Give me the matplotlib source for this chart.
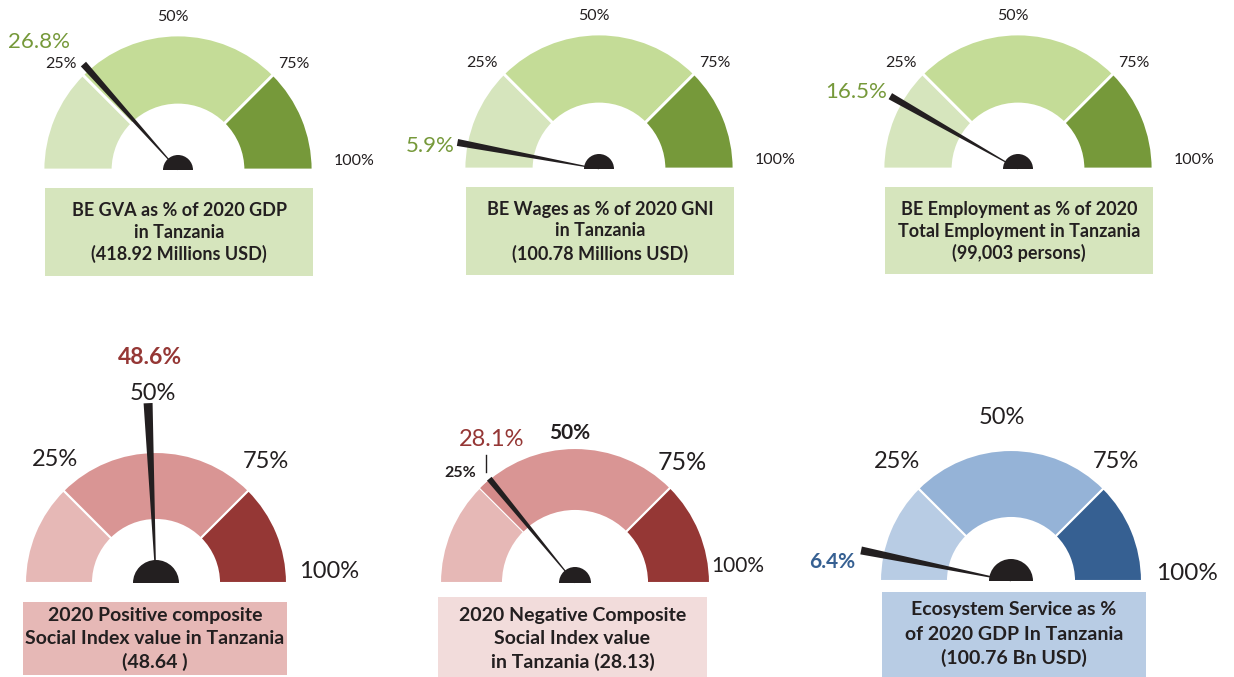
import numpy as np
import matplotlib.pyplot as plt
from matplotlib.patches import Wedge, Polygon, Rectangle

plt.rcParams['font.family'] = ['Lato', 'DejaVu Sans']

W, H = 1234, 677
INK = '#231f20'

# Werte der Anzeigen (in %)
values = [26.8, 5.9, 16.5, 48.6, 28.1, 6.4]
value_labels = ['26.8%', '5.9%', '16.5%', '48.6%', '28.1%', '6.4%']
bands = [0, 25, 75, 100]
band_labels = ['25%', '50%', '75%', '100%']
titles = [
    ['BE GVA as % of 2020 GDP', 'in Tanzania', '(418.92 Millions USD)'],
    ['BE Wages as % of 2020 GNI', 'in Tanzania', '(100.78 Millions USD)'],
    ['BE Employment as % of 2020', 'Total Employment in Tanzania', '(99,003 persons)'],
    ['2020 Positive composite', 'Social Index value in Tanzania', '(48.64 )'],
    ['2020 Negative Composite', 'Social Index value', 'in Tanzania (28.13)'],
    ['Ecosystem Service as %', 'of 2020 GDP In Tanzania', '(100.76 Bn USD)'],
]

# Farben
green = dict(seg=['#d6e5bd', '#c4dc97', '#76993a'], box='#d6e5bd', val='#76993a')
red = dict(seg=['#e6b8b6', '#d99594', '#953735'], box='#e6b8b6', val='#953735')
red_pale = dict(red, box='#f2dcdb')
blue = dict(seg=['#b8cce4', '#95b3d7', '#366092'], box='#b8cce4', val='#366092')

# Layout (Pixel, y von oben gemessen)
top_ticks = [(-117, 106), (-5, 153), (116, 106), (176, 9)]
layouts = [
    dict(c=(178, 170), R=135, r=65, hub=15, nl=142, nw=3.5, sep=2.0,
         box=(45, 313, 188, 276), lines=[210, 232, 254], tfs=13,
         ticks=top_ticks, kfs=[11.5] * 4, kw=['normal'] * 4,
         vpos=(-139, 128), vfs=16, vw='normal', col=green),
    dict(c=(599, 169), R=135, r=65, hub=15, nl=144, nw=3.5, sep=2.0,
         box=(466, 734, 187, 275), lines=[209, 231, 254], tfs=13,
         ticks=top_ticks, kfs=[11.5] * 4, kw=['normal'] * 4,
         vpos=(-169, 23), vfs=16, vw='normal', col=green),
    dict(c=(1018, 169), R=135, r=65, hub=15, nl=147, nw=3.5, sep=2.0,
         box=(885, 1153, 187, 274), lines=[209, 231, 253], tfs=13,
         ticks=top_ticks, kfs=[11.5] * 4, kw=['normal'] * 4,
         vpos=(-162, 77), vfs=16, vw='normal', col=green),
    dict(c=(156, 583), R=131, r=63, hub=23, nl=180, nw=4.5, sep=1.5,
         box=(23, 287, 602, 675), lines=[615, 638, 662], tfs=14,
         ticks=[(-101, 123), (-3, 190), (110, 121), (173, 11)],
         kfs=[17] * 4, kw=['normal'] * 4,
         vpos=(-6, 225), vfs=16.5, vw='bold', col=red),
    dict(c=(575, 583), R=135, r=72, hub=16, nl=135, nw=3.0, sep=1.5,
         box=(438, 707, 597, 677), lines=[615, 638, 662], tfs=14,
         ticks=[(-115, 110), (-5, 150), (107, 120), (163, 17)],
         kfs=[11.5, 15, 18, 15], kw=['bold', 'bold', 'normal', 'normal'],
         vpos=(-83, 144), vfs=17, vw='normal', col=red_pale),
    dict(c=(1011, 581), R=131, r=63, hub=22, nl=153, nw=4.0, sep=1.5,
         box=(882, 1146, 592, 677), lines=[610, 635, 658], tfs=14,
         ticks=[(-114, 120), (-9, 163), (105, 120), (176, 8)],
         kfs=[17, 17, 17, 17.5], kw=['normal'] * 4,
         vpos=(-179, 19), vfs=15, vw='bold', col=blue),
]


def angle(p):
    return 180 - 1.8 * p


fig = plt.figure(figsize=(W / 100, H / 100), dpi=100)
ax = fig.add_axes([0, 0, 1, 1])
ax.set_xlim(0, W)
ax.set_ylim(0, H)
ax.axis('off')

for i, lay in enumerate(layouts):
    cx, cy = lay['c'][0], H - lay['c'][1]
    col = lay['col']
    R, r = lay['R'], lay['r']

    # Segmente
    for k in range(len(bands) - 1):
        ax.add_patch(Wedge((cx, cy), R, angle(bands[k + 1]), angle(bands[k]), width=R - r,
                           facecolor=col['seg'][k], edgecolor='white', linewidth=lay['sep']))

    # Sonderfall: Bereich zwischen 25% und Wert etwas dunkler
    if i == 4:
        ax.add_patch(Wedge((cx, cy), R - 0.8, angle(values[i]), angle(bands[1]), width=R - r - 1.6,
                           facecolor='#d48b8a', edgecolor='none'))
        tx = cx + lay['vpos'][0] - 6
        ax.plot([tx, tx], [cy + 111, cy + 128], color=INK, linewidth=1)

    # Zeiger
    th = np.radians(angle(values[i]))
    u = np.array([np.cos(th), np.sin(th)])
    n = np.array([-np.sin(th), np.cos(th)])
    c = np.array([cx, cy])
    tip = c + u * lay['nl']
    pts = [c + n * 0.3, c - n * 0.3, tip - n * lay['nw'], tip + n * lay['nw']]
    ax.add_patch(Polygon(pts, closed=True, facecolor=INK, edgecolor='none'))
    ax.add_patch(Wedge((cx, cy), lay['hub'], 0, 180, facecolor=INK, edgecolor='none'))

    # Beschriftung der Bereiche
    for k, lbl in enumerate(band_labels):
        dx, dy = lay['ticks'][k]
        ax.text(cx + dx, cy + dy, lbl, ha='center', va='center', color=INK,
                fontsize=lay['kfs'][k], fontweight=lay['kw'][k])

    # Wert
    ax.text(cx + lay['vpos'][0], cy + lay['vpos'][1], value_labels[i], ha='center', va='center',
            color=col['val'], fontsize=lay['vfs'], fontweight=lay['vw'])

    # Textkasten
    x0, x1, y0, y1 = lay['box']
    ax.add_patch(Rectangle((x0, H - y1), x1 - x0, y1 - y0, facecolor=col['box'], edgecolor='none'))
    for line, ly in zip(titles[i], lay['lines']):
        ax.text((x0 + x1) / 2, H - ly, line, ha='center', va='center', color=INK,
                fontsize=lay['tfs'], fontweight='bold')

fig.savefig('out.png', dpi=100)
